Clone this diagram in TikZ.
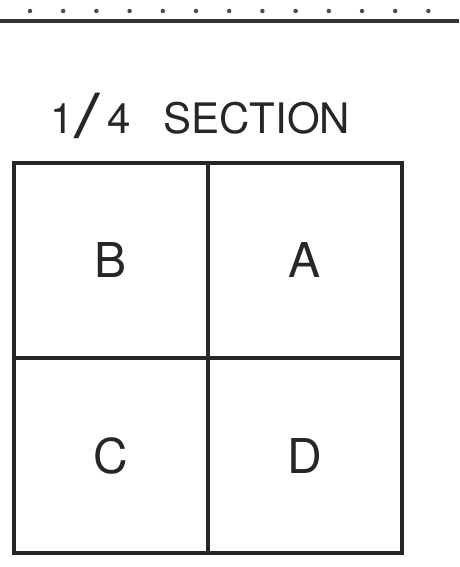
\documentclass[tikz,border=0pt]{standalone}
\usepackage{fontspec}
\usepackage{graphicx}
\setmainfont{TeX Gyre Heros}
\begin{document}
\begin{tikzpicture}[x=1pt,y=-1pt,
  cell/.style={draw=black!85, line width=3.2pt, minimum width=194pt, minimum height=195pt, inner sep=0pt, font=\fontsize{48}{48}\selectfont, text=black!85},
  dotmark/.style={circle, fill=black!70, inner sep=0pt, minimum size=4.5pt}]
\useasboundingbox (0,0) rectangle (459,567);
\coordinate (l) at (0,21);
\coordinate (r) at (459,21);
\draw[line width=4.5pt, black!80] (l) -- (r);
\foreach \i in {0,...,12} {
  \node[dotmark] (d\i) at (30+33.2*\i, 11) {};
}
\node[anchor=base west, font=\fontsize{42}{42}\selectfont, text=black!85, inner sep=0pt] (title) at (50,133)
  {1\kern1pt\raisebox{-5pt}{\scalebox{2.2}[1.45]{/}}\kern7pt 4\kern33pt SECTION};
\node[cell] (B) at (111,260.5) {B};
\node[cell] (A) at (305,260.5) {A};
\node[cell] (C) at (111,455.5) {C};
\node[cell] (D) at (305,455.5) {D};
\end{tikzpicture}
\end{document}
